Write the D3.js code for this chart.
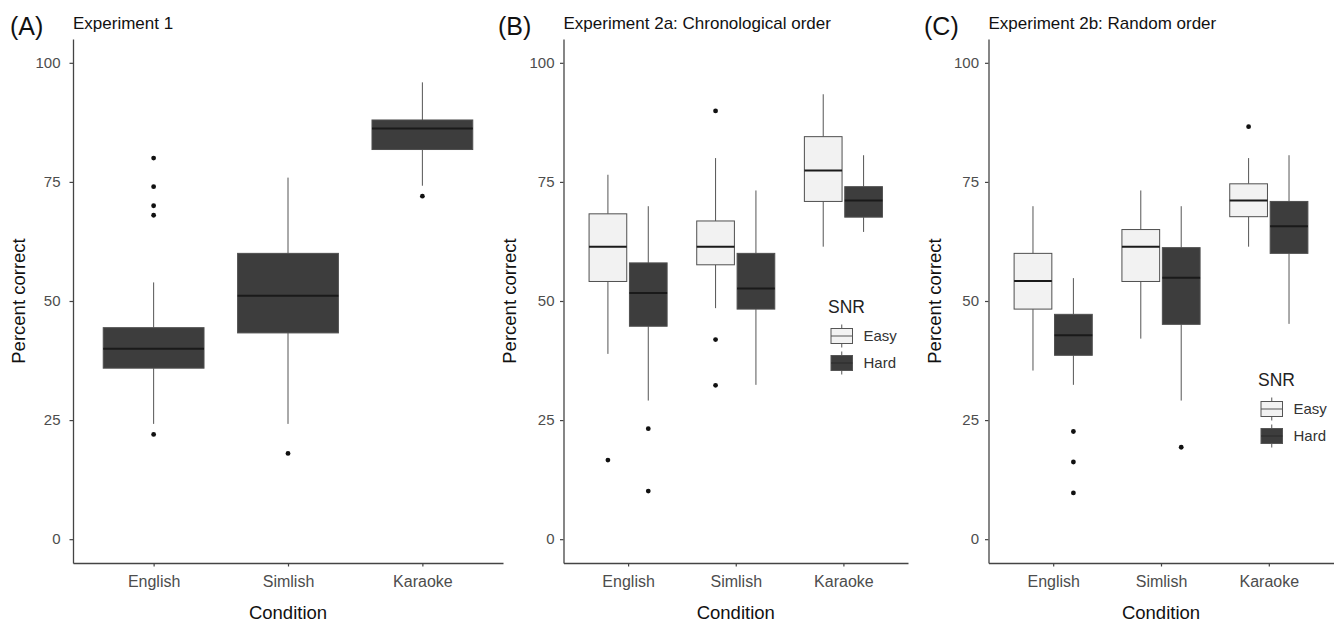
<!DOCTYPE html>
<html>
<head>
<meta charset="utf-8">
<script src="https://cdn.jsdelivr.net/npm/d3@7"></script>
<style>
  body { margin: 0; background: #fff; }
  svg { display: block; font-family: "Liberation Sans", Arial, sans-serif; }
</style>
</head>
<body>
<div id="chart"></div>
<script>
const conditions = ["English", "Simlish", "Karaoke"];
const snrLevels = ["Easy", "Hard"];
const yTicks = [0, 25, 50, 75, 100];

// box stats per condition: [lower whisker, Q1, median, Q3, upper whisker]
const exp1Boxes = [[24.2, 35.9, 40.0, 44.4, 53.9], [24.2, 43.3, 51.1, 60.0, 75.9], [74.2, 81.8, 86.2, 88.0, 95.9]];
const exp1Outliers = [[80, 74, 70, 68, 22], [18], [72]];

const exp2aEasy = [[38.9, 54.1, 61.4, 68.3, 76.5], [48.5, 57.6, 61.4, 66.8, 80.0], [61.4, 70.9, 77.4, 84.5, 93.4]];
const exp2aHard = [[29.1, 44.7, 51.7, 58.0, 69.9], [32.4, 48.3, 52.6, 60.0, 73.2], [64.5, 67.6, 71.1, 74.0, 80.6]];
const exp2aEasyOut = [[16.6], [89.9, 41.9, 32.3], []];
const exp2aHardOut = [[23.2, 10.1], [], []];

const exp2bEasy = [[35.4, 48.3, 54.2, 60.0, 69.9], [42.1, 54.1, 61.4, 65.0, 73.2], [61.4, 67.7, 71.1, 74.6, 80.0]];
const exp2bHard = [[32.4, 38.6, 42.8, 47.2, 54.8], [29.1, 45.1, 54.9, 61.2, 69.9], [45.2, 60.0, 65.7, 70.9, 80.6]];
const exp2bEasyOut = [[], [], [86.6]];
const exp2bHardOut = [[22.6, 16.2, 9.7], [19.3], []];

const width = 1336, height = 622;
const plotTop = 39, plotBottom = 563;
const fills = { Easy: "#f2f2f2", Hard: "#3d3d3d" };

const svg = d3.select("#chart").append("svg")
    .attr("width", width)
    .attr("height", height);

const y = d3.scaleLinear().domain([-5, 105]).range([plotBottom, plotTop]);

const panels = [
  { tag: "(A)", tagX: 10, title: "Experiment 1", left: 73, right: 503, pad: 9,
    series: [{ key: "Hard", stats: exp1Boxes, outliers: exp1Outliers, offset: 0, w: 0.75 }] },
  { tag: "(B)", tagX: 498, title: "Experiment 2a: Chronological order", left: 563.5, right: 908, pad: 5.5,
    legend: { x: 828, y: 313 },
    series: [
      { key: "Easy", stats: exp2aEasy, outliers: exp2aEasyOut, offset: -0.1875, w: 0.35 },
      { key: "Hard", stats: exp2aHard, outliers: exp2aHardOut, offset: 0.1875, w: 0.35 }] },
  { tag: "(C)", tagX: 924, title: "Experiment 2b: Random order", left: 988.5, right: 1333.5, pad: 6,
    legend: { x: 1258, y: 386 },
    series: [
      { key: "Easy", stats: exp2bEasy, outliers: exp2bEasyOut, offset: -0.1875, w: 0.35 },
      { key: "Hard", stats: exp2bHard, outliers: exp2bHardOut, offset: 0.1875, w: 0.35 }] }
];

function drawBox(g, cx, bw, s, fill) {
  g.append("line").attr("x1", cx).attr("x2", cx).attr("y1", y(s[4])).attr("y2", y(s[3]))
      .attr("stroke", "#555").attr("stroke-width", 1);
  g.append("line").attr("x1", cx).attr("x2", cx).attr("y1", y(s[1])).attr("y2", y(s[0]))
      .attr("stroke", "#555").attr("stroke-width", 1);
  g.append("rect")
      .attr("x", cx - bw / 2).attr("y", y(s[3]))
      .attr("width", bw).attr("height", y(s[1]) - y(s[3]))
      .attr("fill", fill).attr("stroke", "#4f4f4f").attr("stroke-width", 1);
  g.append("line").attr("x1", cx - bw / 2).attr("x2", cx + bw / 2)
      .attr("y1", y(s[2])).attr("y2", y(s[2]))
      .attr("stroke", "#1a1a1a").attr("stroke-width", 2);
}

panels.forEach(p => {
  const x = d3.scalePoint().domain(conditions).range([p.left, p.right]).padding(0.6);
  const step = x.step();
  const g = svg.append("g");

  // axes
  const yAxis = g.append("g")
      .attr("transform", `translate(${p.left},0)`)
      .call(d3.axisLeft(y).tickValues(yTicks).tickSize(3.5).tickSizeOuter(0).tickPadding(p.pad));
  const xAxis = g.append("g")
      .attr("transform", `translate(0,${plotBottom})`)
      .call(d3.axisBottom(x).tickSize(3.5).tickSizeOuter(0).tickPadding(7));
  [yAxis, xAxis].forEach(a => {
    a.attr("font-family", null);
    a.select(".domain").attr("stroke", "#444").attr("stroke-width", 1.3);
    a.selectAll(".tick line").attr("stroke", "#444").attr("stroke-width", 1.2);
    a.selectAll(".tick text").attr("fill", "#4d4d4d");
  });
  yAxis.selectAll(".tick text").attr("font-size", 15);
  xAxis.selectAll(".tick text").attr("font-size", 16).attr("dy", "0.85em");

  // boxes
  p.series.forEach(sr => {
    const bw = sr.w * step;
    conditions.forEach((c, i) => {
      const cx = x(c) + sr.offset * step;
      drawBox(g, cx, bw, sr.stats[i], fills[sr.key]);
      g.selectAll(null)
        .data(sr.outliers[i])
        .join("circle")
          .attr("cx", cx)
          .attr("cy", d => y(d))
          .attr("r", 2.4)
          .attr("fill", "#111");
    });
  });

  // labels
  const mid = (p.left + p.right) / 2;
  g.append("text").attr("x", p.tagX).attr("y", 34.5)
      .attr("font-size", 25).attr("fill", "#111").text(p.tag);
  g.append("text").attr("x", p.left).attr("y", 29)
      .attr("font-size", 17).attr("fill", "#111").text(p.title);
  g.append("text").attr("x", mid).attr("y", 619)
      .attr("text-anchor", "middle").attr("font-size", 18.5).attr("fill", "#111").text("Condition");
  g.append("text")
      .attr("transform", `translate(${p.left - 48},${(plotTop + plotBottom) / 2}) rotate(-90)`)
      .attr("text-anchor", "middle").attr("font-size", 18.5).attr("fill", "#111").text("Percent correct");

  // legend
  if (p.legend) {
    const lg = g.append("g").attr("transform", `translate(${p.legend.x},${p.legend.y})`);
    lg.append("text").attr("x", 0).attr("y", 0)
        .attr("font-size", 17.5).attr("fill", "#222").text("SNR");
    snrLevels.forEach((k, i) => {
      const ky = 15.5 + i * 27;
      const kx = 3, kw = 21.5, kh = 15;
      lg.append("line").attr("x1", kx + kw / 2).attr("x2", kx + kw / 2)
          .attr("y1", ky - 4).attr("y2", ky + kh + 4).attr("stroke", "#555");
      lg.append("rect").attr("x", kx).attr("y", ky).attr("width", kw).attr("height", kh)
          .attr("fill", fills[k]).attr("stroke", "#555").attr("stroke-width", 1);
      lg.append("line").attr("x1", kx).attr("x2", kx + kw)
          .attr("y1", ky + kh / 2).attr("y2", ky + kh / 2)
          .attr("stroke", k === "Easy" ? "#555" : "#2a2a2a").attr("stroke-width", 1);
      lg.append("text").attr("x", 35.5).attr("y", ky + kh / 2)
          .attr("dy", "0.36em").attr("font-size", 15).attr("fill", "#333").text(k);
    });
  }
});
</script>
</body>
</html>
